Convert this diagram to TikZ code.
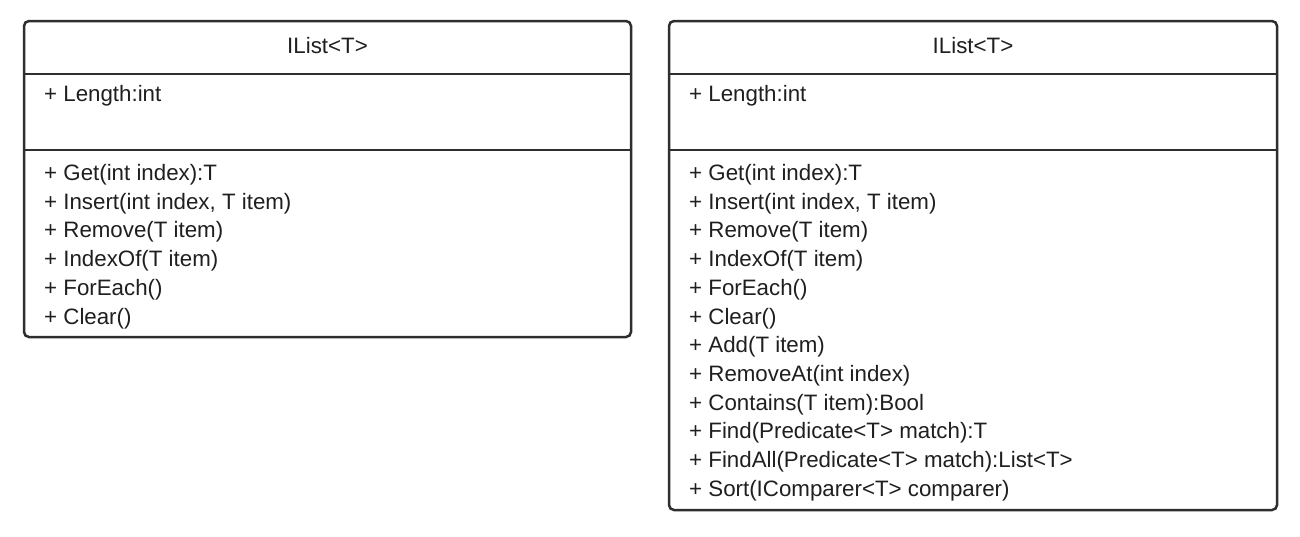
\documentclass[tikz,border=0pt]{standalone}
\usepackage{fontspec}
\setmainfont{Liberation Sans}
\begin{document}
\begin{tikzpicture}[x=1pt,y=-1pt,
  box/.style={draw=black!82,line width=2.5pt,rounded corners=5pt,inner sep=0pt,fill=white},
  sep/.style={draw=black!82,line width=2.5pt},
  txt/.style={anchor=base west,inner sep=0pt,font=\fontsize{22.3}{26}\selectfont,text=black!88},
  ttl/.style={anchor=base,inner sep=0pt,font=\fontsize{22.3}{26}\selectfont,text=black!88}]
\useasboundingbox (0,0) rectangle (1300,536);
% left class
\node[box,minimum width=607pt,minimum height=316pt] (L) at (327.5,179) {};
\coordinate (L1w) at (24,74); \coordinate (L1e) at (631,74);
\coordinate (L2w) at (24,150); \coordinate (L2e) at (631,150);
\draw[sep] (L1w) -- (L1e);
\draw[sep] (L2w) -- (L2e);
\node[ttl] (Lt) at (327.5,53) {IList<T>};
\node[txt] (La) at (44,101.5) {+ Length:int};
\foreach \t [count=\i from 0] in {{+ Get(int index):T},{+ Insert(int index, T item)},{+ Remove(T item)},{+ IndexOf(T item)},{+ ForEach()},{+ Clear()}}
  \node[txt] (Lm\i) at (44,180.5+28.7*\i) {\t};
% right class
\node[box,minimum width=608pt,minimum height=489pt] (R) at (973,265.5) {};
\coordinate (R1w) at (669,74); \coordinate (R1e) at (1277,74);
\coordinate (R2w) at (669,150); \coordinate (R2e) at (1277,150);
\draw[sep] (R1w) -- (R1e);
\draw[sep] (R2w) -- (R2e);
\node[ttl] (Rt) at (973,53) {IList<T>};
\node[txt] (Ra) at (689,101.5) {+ Length:int};
\foreach \t [count=\i from 0] in {{+ Get(int index):T},{+ Insert(int index, T item)},{+ Remove(T item)},{+ IndexOf(T item)},{+ ForEach()},{+ Clear()},{+ Add(T item)},{+ RemoveAt(int index)},{+ Contains(T item):Bool},{+ Find(Predicate<T> match):T},{+ FindAll(Predicate<T> match):List<T>},{+ Sort(IComparer<T> comparer)}}
  \node[txt] (Rm\i) at (689,180.5+28.7*\i) {\t};
\end{tikzpicture}
\end{document}
